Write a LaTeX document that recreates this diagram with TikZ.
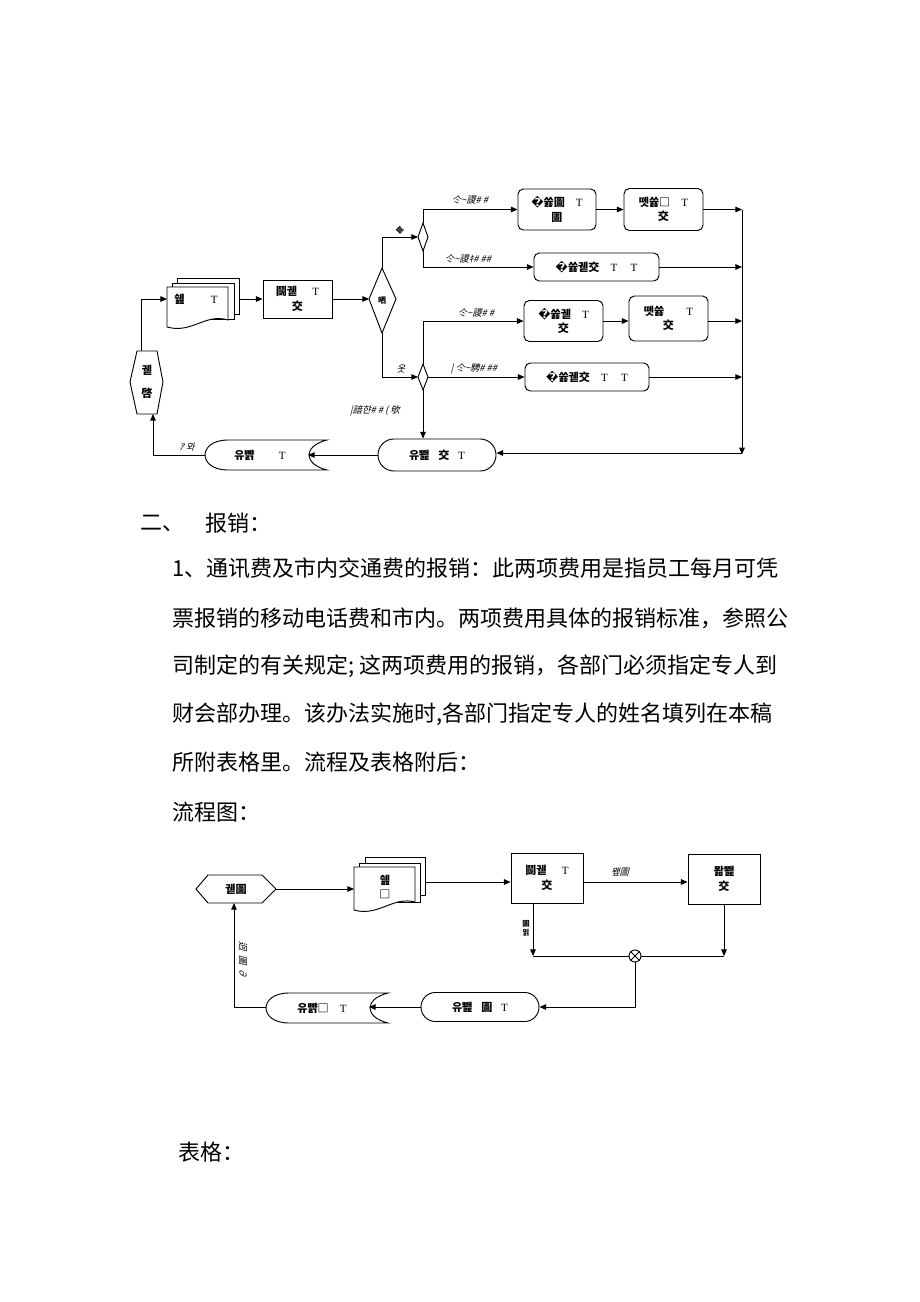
\documentclass[tikz,border=0pt]{standalone}
\usepackage{fontspec}
\setmainfont{Liberation Serif}
\newfontfamily\cjksc{Noto Sans CJK SC}
\newfontfamily\cjkkr{Noto Sans CJK KR}
\newfontfamily\cjkit[FakeSlant=0.25]{Noto Sans CJK KR}
\newfontfamily\dvs{DejaVu Sans}
\usetikzlibrary{arrows.meta,shapes.geometric}
\newcommand\tsym{{\rmfamily\mdseries T}}
\newcommand\repq{{\dvs\char"FFFD}}
\begin{document}
\begin{tikzpicture}[x=0.75pt,y=-0.75pt,
  ln/.style={line width=0.7pt},
  arr/.style={ln,-{Triangle[length=5pt,width=4.2pt]}},
  sq/.style={draw,ln,fill=white,inner sep=0pt,align=center,font=\cjkkr\bfseries\fontsize{8.3pt}{11pt}\selectfont},
  rbox/.style={sq,rounded corners=4pt},
  lbl/.style={font=\cjkkr\bfseries\fontsize{8.3pt}{11pt}\selectfont,inner sep=0pt,align=center},
  itl/.style={font=\cjkit\fontsize{7pt}{8pt}\selectfont,inner sep=0pt},
  body/.style={font=\cjksc\fontsize{16.5pt}{20pt}\selectfont,anchor=west,inner sep=0pt}
]
\path[use as bounding box,fill=white] (0,0) rectangle (920,1302);

% ================= upper diagram =================
\draw[ln,fill=white] (177,278) rectangle (239,314);
\draw[ln,fill=white] (172,283) rectangle (234,319);
\draw[ln,fill=white] (167,287) -- (228,287) -- (228,320) .. controls (205,313) and (192,334) .. (167,327) -- cycle;
\node[lbl] (docA) at (196,299) {쉞\hspace{2.4em}\tsym};
\coordinate (docAin) at (167,299);
\coordinate (docAout) at (239,299);

\node[sq,minimum width=51.75pt,minimum height=28.5pt] (m) at (297.5,299) {鬬궫\hspace{1.4em}\tsym\\交};

\draw[ln,fill=white] (382,268) -- (396,299) -- (382,333) -- (369,299) -- cycle;
\node[lbl,font=\cjkkr\bfseries\fontsize{6pt}{7pt}\selectfont] (D1) at (382,301) {哂};
\coordinate (D1t) at (382,268);
\coordinate (D1b) at (382,333);
\coordinate (D1l) at (369,299);

\draw[ln,fill=white] (423,223) -- (428,237) -- (423,251) -- (418,237) -- cycle;
\coordinate (S1t) at (423,223);
\coordinate (S1b) at (423,251);
\coordinate (S1l) at (418,237);
\draw[ln,fill=white] (423,364) -- (428,377) -- (423,390) -- (418,377) -- cycle;
\coordinate (S2t) at (423,364);
\coordinate (S2b) at (423,390);
\coordinate (S2l) at (418,377);
\coordinate (S2r) at (428,377);

\node[rbox,minimum width=58.5pt,minimum height=30.75pt] (b1) at (557,209.5) {\repq{}쓣圖\hspace{1em}\tsym\\圕};
\node[rbox,minimum width=59.25pt,minimum height=31.5pt] (b2) at (663.5,209.5) {뗏쓣□\hspace{1em}\tsym\\交};
\node[rbox,minimum width=93.75pt,minimum height=21pt] (b3) at (596.5,267) {\repq{}쓣궫交\hspace{1em}\tsym\hspace{1.2em}\tsym};
\node[rbox,minimum width=59.25pt,minimum height=30.75pt] (b4) at (563.5,321) {\repq{}쓣궫\hspace{1em}\tsym\\交};
\node[rbox,minimum width=59.25pt,minimum height=33.75pt] (b5) at (668.5,318.5) {뗏쓣\hspace{2em}\tsym\\交};
\node[rbox,minimum width=93pt,minimum height=21pt] (b6) at (587,377) {\repq{}쓣궫交\hspace{1em}\tsym\hspace{1.2em}\tsym};

\node[sq,rounded corners=11.9pt,minimum width=88.5pt,minimum height=24pt] (T2) at (437,455) {유뾅\hspace{0.8em}交\hspace{0.8em}\tsym};

\draw[ln,fill=white] (228,440) -- (327,440) .. controls (303,446) and (303,464) .. (327,470) -- (228,470) .. controls (212,470) and (205,462) .. (205,455) .. controls (205,448) and (212,440) .. (228,440) -- cycle;
\node[lbl] (Dsp) at (260,455) {유뺡\hspace{2.2em}\tsym};
\coordinate (DspIn) at (308,455);
\coordinate (DspOut) at (205,455);

\draw[ln,fill=white] (137,351) -- (157,351) -- (163,382) -- (157,414) -- (137,414) -- (130,382) -- cycle;
\node[lbl] (H1) at (147,382) {궫\\[6pt]啓};
\coordinate (H1t) at (141,351);
\coordinate (H1b) at (153,414);

\coordinate (rvTop) at (742,209.5);
\coordinate (rvBot) at (742,453);

\draw[arr] (H1t) |- (docAin);
\draw[arr] (docAout) -- (m.west);
\draw[arr] (m.east) -- (D1l);
\draw[arr] (D1t) |- (S1l);
\draw[arr] (S1t) |- (b1.west);
\draw[arr] (S1b) |- (b3.west);
\draw[arr] (b1.east) -- (b2.west);
\draw[arr] (b2.east) -- (rvTop);
\draw[arr] (b3.east) -- (b3.east -| rvTop);
\draw[arr] (D1b) |- (S2l);
\draw[arr] (S2t) |- (b4.west);
\draw[arr] (b4.east) -- (b4.east -| b5.west);
\draw[arr] (b4.east -| b5.east) -- (b4.east -| rvTop);
\draw[arr] (S2r) -- (b6.west);
\draw[arr] (b6.east) -- (b6.east -| rvTop);
\draw[arr] (rvTop) -- ([yshift=-1]rvBot);
\draw[arr] (rvBot) -- (rvBot -| T2.east);
\draw[arr] (S2b) -- (S2b |- T2.north);
\draw[arr] (T2.west) -- (DspIn);
\draw[arr] (DspOut) -| (H1b);

\node[itl] (l1) at (470,200) {仒\textasciitilde 謖\# \#};
\node[itl] (l2) at (468,259) {仒\textasciitilde 謖ｷ\# \#\#};
\node[itl] (l3) at (476,313) {仒\textasciitilde 謖\# \#};
\node[itl] (l4) at (474,369) {|\ 仒\textasciitilde 騁\# \#\#};
\node[itl] (l5) at (401,369) {옷};
\node[itl] (l6) at (375,411) {|諳햔\# \# ( 欨};
\node[itl] (l7) at (187,447) {ｱ 뫄};
\node[itl,rotate=45,font=\cjkkr\bfseries\fontsize{5pt}{6pt}\selectfont] (l8) at (400,230) {罷};

% ================= body text =================
\node[body] (t0) at (140,523) {二、};
\node[body] (t0b) at (205,523) {报销：};
\node[body] (t1) at (172,568) {1、通讯费及市内交通费的报销：此两项费用是指员工每月可凭};
\node[body] (t2) at (172,618) {票报销的移动电话费和市内。两项费用具体的报销标准，参照公};
\node[body] (t3) at (172,666) {司制定的有关规定; 这两项费用的报销，各部门必须指定专人到};
\node[body] (t4) at (172,714) {财会部办理。该办法实施时,各部门指定专人的姓名填列在本稿};
\node[body] (t5) at (172,762) {所附表格里。流程及表格附后：};
\node[body] (t6) at (172,812) {流程图：};
\node[body] (t7) at (178,1152) {表格：};

% ================= lower diagram =================
\draw[ln,fill=white] (196,889) -- (208,875) -- (262,875) -- (276,889) -- (262,903) -- (208,903) -- cycle;
\node[lbl] (H2) at (236,889) {궫圖};
\coordinate (H2r) at (276,889);
\coordinate (H2b) at (234,903);

\draw[ln,fill=white] (365,857) rectangle (425,895);
\draw[ln,fill=white] (359,863) rectangle (420,902);
\draw[ln,fill=white] (354,867) -- (415,867) -- (415,902) .. controls (393,896) and (378,917) .. (354,910) -- cycle;
\node[lbl] (docB) at (385,887) {쉞\\□};
\coordinate (docBin) at (354,889);
\coordinate (docBout) at (425,882);

\node[sq,minimum width=54pt,minimum height=37.5pt] (bA) at (547,878) {鬬궫\hspace{1.4em}\tsym\\交};
\node[sq,minimum width=54pt,minimum height=37.5pt] (bB) at (724,879) {뫎뾅\\交};

\coordinate (jL) at (533,956);
\coordinate (jR) at (724,956);
\node[draw,ln,circle,minimum size=9pt,inner sep=0pt,fill=white] (X) at (635,956) {};
\draw[ln] (X.north west) -- (X.south east) (X.north east) -- (X.south west);

\node[sq,rounded corners=10.8pt,minimum width=88.5pt,minimum height=21.75pt] (T3) at (480,1007) {유뾅\hspace{0.8em}圖\hspace{0.8em}\tsym};

\draw[ln,fill=white] (289,993) -- (388,993) .. controls (364,999) and (364,1017) .. (388,1023) -- (289,1023) .. controls (273,1023) and (266,1015) .. (266,1008) .. controls (266,1001) and (273,993) .. (289,993) -- cycle;
\node[lbl] (D2) at (322,1008) {유뺡□\hspace{1em}\tsym};
\coordinate (D2in) at (369,1007);
\coordinate (D2out) at (266,1007);

\draw[arr] (H2r) -- (docBin);
\draw[arr] (docBout) -- (docBout -| bA.west);
\draw[arr] (docBout -| bA.east) -- (docBout -| bB.west);
\draw[arr] (bA.south -| jL) -- (jL);
\draw[arr] (bB.south) -- (jR);
\draw[ln] (jL) -- (X.west);
\draw[ln] (X.east) -- (jR);
\draw[arr] (X.south) |- (T3.east);
\draw[arr] (T3.west) -- (D2in);
\draw[arr] (D2out) -| (H2b);

\node[itl] (m1) at (620,872) {뫺圖};
\node[itl,align=center,font=\cjkkr\bfseries\fontsize{5.5pt}{6.5pt}\selectfont] (m2) at (526,928) {圖\\밁};
\node[itl,rotate=-90] (m3) at (243,960) {迥\ \ 圖\ \ ∂};
\end{tikzpicture}
\end{document}
